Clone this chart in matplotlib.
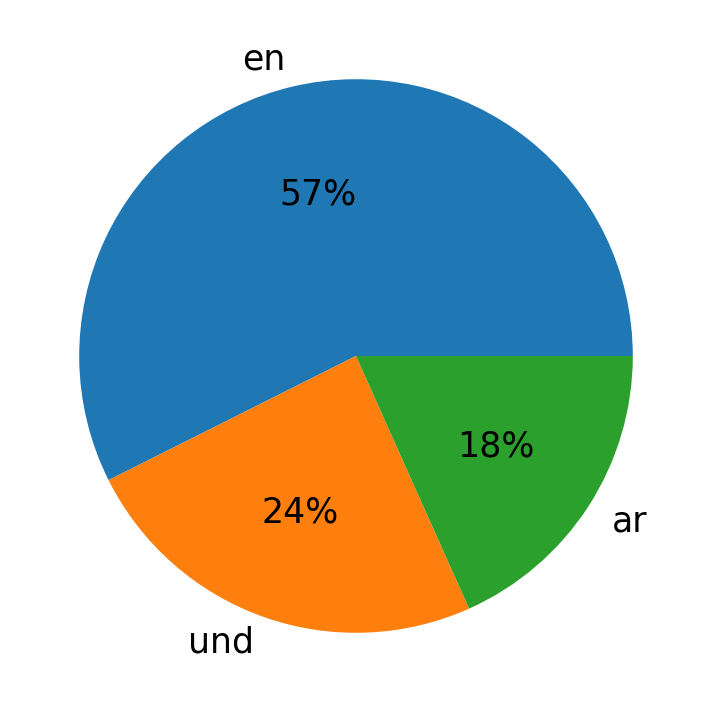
import matplotlib
matplotlib.use("Agg")
import matplotlib.pyplot as plt

languages = ["en", "und", "ar"]
shares = [57.4, 24.3, 18.3]


def main():
    fig = plt.figure(figsize=(7.12, 7.13), dpi=100)
    # pie uses limits of +-1.25, so the axes is 2.5 radii wide
    ax = fig.add_axes([10 / 712, 11 / 713, 692 / 712, 692 / 713])
    ax.pie(shares, labels=languages, autopct="%1.0f%%", textprops={"fontsize": 25})
    plt.savefig("out.png")


if __name__ == "__main__":
    main()
